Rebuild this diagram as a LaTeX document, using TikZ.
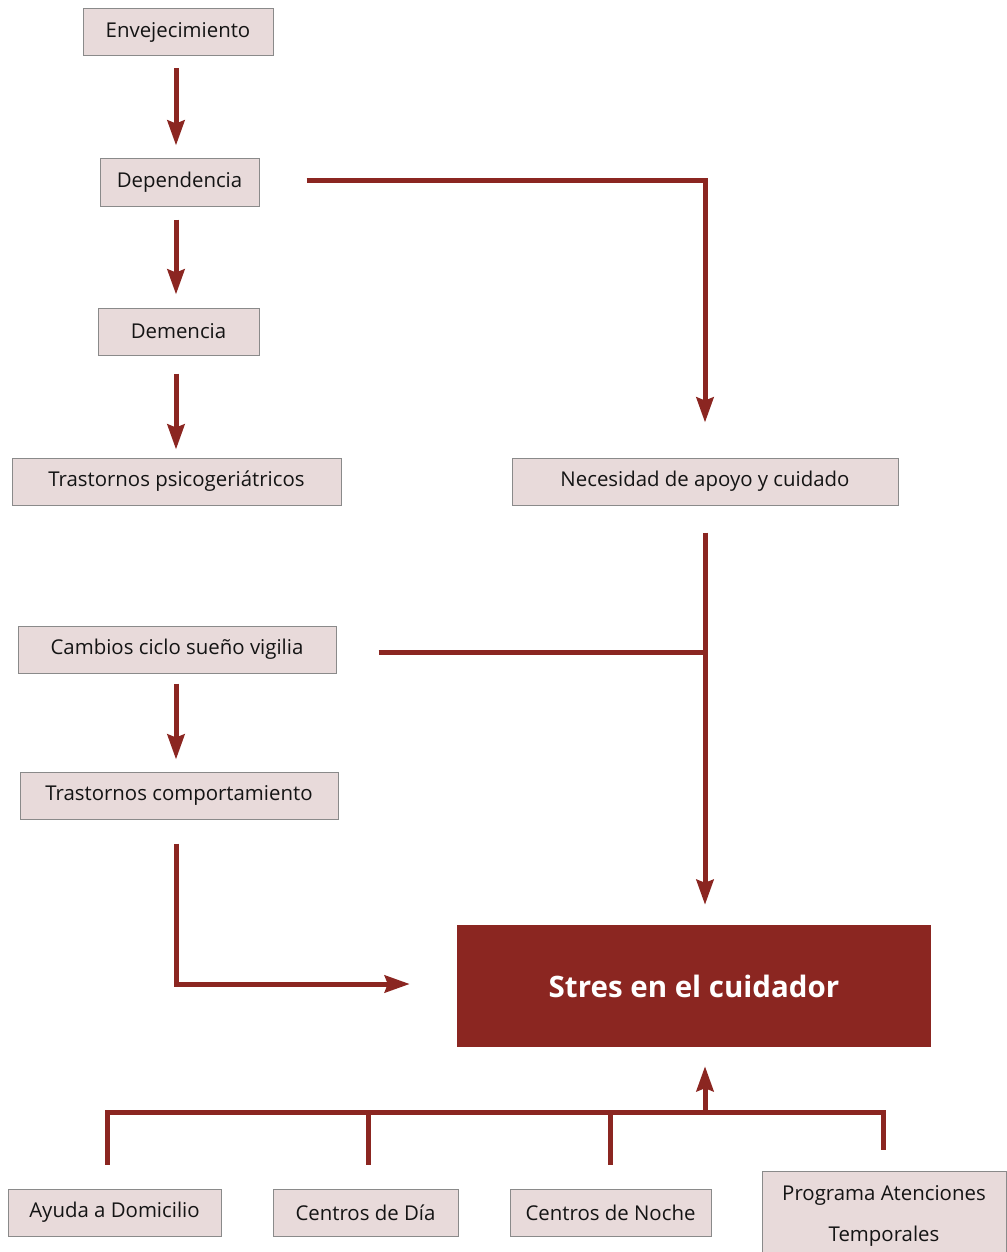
\documentclass[tikz,border=0pt]{standalone}
\usepackage{fontspec}
\setmainfont{Open Sans}
\usepackage{xcolor}
\usetikzlibrary{arrows.meta}

\definecolor{granate}{HTML}{8B2621}
\definecolor{rosado}{HTML}{E8DADA}
\definecolor{borde}{HTML}{8A8A8A}

\tikzset{
	caja/.style = {draw = borde, fill = rosado, line width = 1pt, minimum height = 47pt, inner sep = 0pt, text = black!92, font = \fontsize{20.4}{24}\selectfont},
	linea/.style = {draw = granate, line width = 5pt, line join = miter},
	flecha/.style = {linea, -{Stealth[length = 25pt, width = 17pt, inset = 3pt]}}
}

\begin{document}
\begin{tikzpicture}[x = 1pt, y = -1pt]
					\def\xMAX{1006};
					\def\yMAX{1252};
					\def\yBus{1112};

					\useasboundingbox (0,0) rectangle (\xMAX,\yMAX);

					\node [caja, minimum width = 190pt] (env) at (178,32.5) {Envejecimiento};
					\node [caja, minimum width = 159pt] (dep) at (179.5,182.5) {Dependencia};
					\node [caja, minimum width = 161pt] (dem) at (178.5,331.5) {Demencia};
					\node [caja, minimum width = 329pt] (psi) at (176.5,481.5) {Trastornos psicogeriátricos};
					\node [caja, minimum width = 386pt] (nec) at (705,481.5) {Necesidad de apoyo y cuidado};
					\node [caja, minimum width = 318pt] (cam) at (177,649.5) {Cambios ciclo sueño vigilia};
					\node [caja, minimum width = 318pt] (com) at (179,795.5) {Trastornos comportamiento};

					\node [fill = granate, minimum width = 474pt, minimum height = 122pt, inner sep = 0pt, text = white, font = \fontsize{29.5}{34}\selectfont\bfseries] (stres) at (694,986) {Stres en el cuidador};

					\node [caja, minimum width = 213pt] (ayu) at (114.5,1212.5) {Ayuda a Domicilio};
					\node [caja, minimum width = 185pt] (dia) at (365.5,1212.5) {Centros de Día};
					\node [caja, minimum width = 201pt] (noc) at (610.5,1212.5) {Centros de Noche};
					\node [caja, minimum width = 244pt, minimum height = 90pt, align = center, font = \fontsize{20.4}{41}\selectfont] (pro) at (884,1216) {Programa Atenciones\\Temporales};

					\coordinate (cruce) at ([yshift = -2.5pt]nec.south |- cam);
					\coordinate (bus) at (0,\yBus);

					\begin{scope}[flecha]
						\draw [shorten <= 12pt, shorten >= 13pt] ([xshift = -2pt]env.south) -- ([xshift = -2pt]env.south |- dep.north);
						\draw [shorten <= 13pt, shorten >= 13pt] ([xshift = -3.5pt]dep.south) -- ([xshift = -3.5pt]dep.south |- dem.north);
						\draw [shorten <= 18pt, shorten >= 8pt] ([xshift = -2.5pt]dem.south) -- ([xshift = -2.5pt]dem.south |- psi.north);
						\draw [shorten <= 47pt, shorten >= 35pt] ([yshift = 1.5pt]dep.east) -| (nec);
						\draw [shorten <= 27pt, shorten >= 20pt] (nec.south) -- (nec.south |- stres.north);
						\draw [shorten <= 10pt, shorten >= 12pt] ([xshift = -1pt]cam.south) -- ([xshift = -1pt]cam.south |- com.north);
						\draw [shorten <= 24pt, shorten >= 47pt] ([xshift = -3pt]com.south) |- ([yshift = 2pt]stres.west);
						\draw [shorten >= 19pt] (nec.south |- bus) -- (nec.south |- stres.south);
					\end{scope}

					\begin{scope}[linea]
						\draw [shorten <= 42pt] (cam.east |- cruce) -- (cruce);
						\draw [shorten <= 24pt, shorten >= 21pt] ([xshift = -7.5pt]ayu.north) -- ([xshift = -7.5pt]ayu.north |- bus) -| ([xshift = -1pt]pro.north);
						\draw [shorten <= 24pt] ([xshift = 2.5pt]dia.north) -- ([xshift = 2.5pt]dia.north |- bus);
						\draw [shorten <= 24pt] (noc.north) -- (noc.north |- bus);
					\end{scope}

				\end{tikzpicture}
\end{document}
